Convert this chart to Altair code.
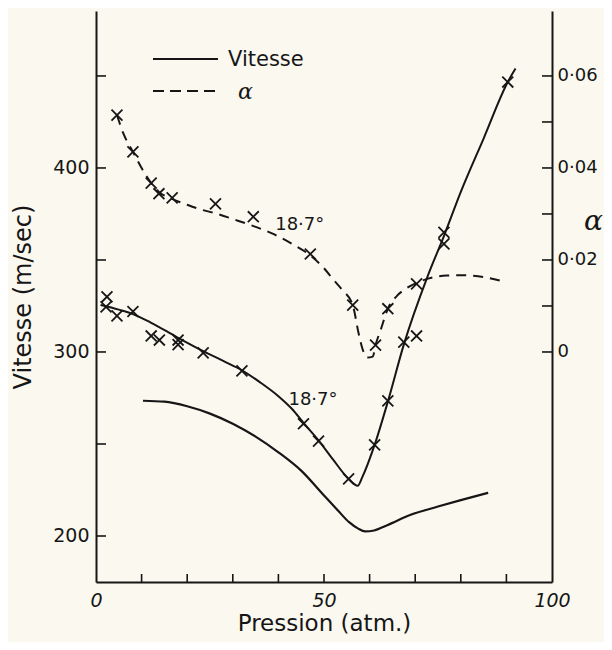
import altair as alt
import pandas as pd

# ---------------- data ----------------
# Vitesse (m/sec) smooth curve through the measured points (18.7 deg)
vit_curve_p = [1.0, 5.0, 8.1, 12.0, 17.8, 23.5, 28.0, 32.0, 36.0, 40.0, 43.0, 45.5, 48.8, 52.0,
               55.4, 57.4, 58.4, 61.1, 64.0, 67.5, 72.7, 76.3, 80.0, 85.0, 90.3, 92.0]
vit_curve_v = [325.5, 323.0, 320.6, 316.0, 308.0, 300.5, 295.0, 290.0, 283.5, 276.0, 269.0, 261.5, 252.0, 241.5,
               231.0, 227.3, 232.0, 249.5, 273.0, 304.0, 341.0, 363.0, 387.0, 416.0, 446.7, 454.0]

# measured Vitesse points (x markers)
vit_pts_p = [2.4, 2.2, 4.6, 8.1, 12.1, 13.9, 18.0, 18.0, 23.5, 32.0, 45.5, 48.8, 55.4,
             61.1, 64.0, 67.5, 70.3, 76.3, 76.3, 90.3]
vit_pts_v = [330.0, 324.5, 319.6, 322.0, 308.7, 306.5, 306.5, 304.0, 299.5, 289.7, 261.0, 251.6, 231.0,
             249.5, 273.4, 305.4, 308.7, 358.7, 365.0, 446.7]

# lower solid curve (no markers)
low_p = [10.3, 15.0, 20.0, 25.0, 30.0, 35.0, 40.0, 45.0, 50.0, 53.0, 55.5, 57.5, 59.0, 61.0, 64.0, 69.0, 75.0, 80.0, 86.0]
low_v = [273.5, 273.0, 270.5, 266.5, 261.0, 254.0, 245.5, 235.5, 222.0, 214.0, 207.5, 204.0, 202.5, 203.0, 206.0,
         211.5, 216.0, 219.5, 223.5]

# alpha dashed curve
alpha_curve_p = [4.6, 6.0, 8.1, 10.0, 12.1, 13.8, 16.7, 20.0, 22.9, 26.0, 30.0, 35.0, 39.0, 43.0, 47.0, 50.0,
                 52.0, 54.0, 56.3, 57.6, 58.4, 59.5, 60.7, 61.3, 62.5, 64.0, 66.0, 68.0, 70.3, 73.0, 77.0,
                 80.0, 85.0, 89.5]
alpha_curve_a = [0.0515, 0.0475, 0.0435, 0.0400, 0.0367, 0.0348, 0.0333, 0.0320, 0.0310, 0.0302, 0.0289, 0.0272,
                 0.0256, 0.0235, 0.0210, 0.0182, 0.0158, 0.0135, 0.0102, 0.0040, 0.0008, -0.0012, -0.0010,
                 0.0015, 0.0050, 0.0094, 0.0122, 0.0138, 0.0150, 0.0160, 0.0166, 0.0167, 0.0163, 0.0153]

# measured alpha points (x markers)
alpha_pts_p = [4.6, 8.1, 12.1, 13.8, 16.7, 26.2, 34.5, 47.0, 56.3, 61.3, 64.0, 70.3]
alpha_pts_a = [0.0515, 0.0435, 0.0367, 0.0344, 0.0335, 0.0322, 0.0294, 0.0213, 0.0102, 0.0015, 0.0094, 0.0148]

# curve annotations
note_text = ["18·7°", "18·7°"]
note_p = [39.3, 42.2]
note_v = [366.3, 271.2]

# axis ticks
x_labels = [0, 50, 100]
x_ticks = [10, 20, 30, 40, 50, 60, 70, 80, 90]
v_labels = [200, 300, 400]
v_ticks = [200, 250, 300, 350, 400, 450]
a_labels = [0, 0.02, 0.04, 0.06]
a_ticks = [0, 0.01, 0.02, 0.03, 0.04, 0.05, 0.06]

legend_labels = ["Vitesse", "α"]

# ---------------- chart ----------------
W, H = 456, 571
INK = "#161616"
FONT = "DejaVu Sans"

x_scale = alt.Scale(domain=[0, 100], nice=False, zero=False)
v_scale = alt.Scale(domain=[175, 485.3], nice=False, zero=False)
a_scale = alt.Scale(domain=[-0.05, 0.07412], nice=False, zero=False)

x_axis = alt.Axis(values=x_labels, title="Pression (atm.)", ticks=False, tickSize=0, grid=False,
                  labelPadding=9, labelFontSize=19, labelFontStyle="italic", labelFlush=False,
                  titleFontSize=23, titlePadding=2, titleFontWeight="normal")
v_axis = alt.Axis(values=v_labels, title="Vitesse (m/sec)", ticks=False, tickSize=0, grid=False,
                  labelPadding=7, labelFontSize=19, titleFontSize=24, titlePadding=17,
                  titleFontWeight="normal")
a_axis = alt.Axis(values=a_labels, orient="right", title="α", ticks=False, tickSize=0, grid=False,
                  labelPadding=5, labelFontSize=18,
                  labelExpr="datum.value == 0 ? '0' : replace(format(datum.value, '.2f'), '.', '·')",
                  titleAngle=0, titleX=41, titleY=210, titleFontSize=28, titleAlign="center",
                  titleBaseline="middle", titleFontWeight="normal", titleFont="DejaVu Serif",
                  titleFontStyle="italic")

X = alt.X("p:Q", scale=x_scale, axis=x_axis)
YV = alt.Y("v:Q", scale=v_scale, axis=v_axis)
YA = alt.Y("a:Q", scale=a_scale, axis=a_axis)

XSHAPE = "M-1,-1L1,1M1,-1L-1,1"

vit_line = alt.Chart(pd.DataFrame({"p": vit_curve_p, "v": vit_curve_v})).mark_line(
    color=INK, strokeWidth=2, interpolate="monotone").encode(x=X, y=YV)
vit_pts = alt.Chart(pd.DataFrame({"p": vit_pts_p, "v": vit_pts_v})).mark_point(
    shape=XSHAPE, size=120, color=INK, strokeWidth=1.8, filled=False, opacity=1).encode(x=X, y=YV)
low_line = alt.Chart(pd.DataFrame({"p": low_p, "v": low_v})).mark_line(
    color=INK, strokeWidth=2.2, interpolate="monotone").encode(x=X, y=YV)
notes = alt.Chart(pd.DataFrame({"p": note_p, "v": note_v, "t": note_text})).mark_text(
    align="left", baseline="alphabetic", font=FONT, fontSize=18, color=INK).encode(x=X, y=YV, text="t:N")
v_tick_marks = alt.Chart(pd.DataFrame({"v": v_ticks})).mark_rule(color=INK, strokeWidth=1.6).encode(
    y=YV, x=alt.value(0), x2=alt.value(10))
x_tick_marks = alt.Chart(pd.DataFrame({"p": x_ticks})).mark_rule(color=INK, strokeWidth=1.6).encode(
    x=X, y=alt.value(H - 8), y2=alt.value(H))

leg_df = pd.DataFrame({"t": legend_labels[:1]})
leg_solid = alt.Chart(leg_df).mark_rule(color=INK, strokeWidth=2).encode(
    x=alt.value(57), x2=alt.value(122), y=alt.value(48))
leg_text1 = alt.Chart(leg_df).mark_text(align="left", baseline="alphabetic", font=FONT, fontSize=21,
                                        color=INK).encode(x=alt.value(132), y=alt.value(55), text="t:N")

left = alt.layer(low_line, vit_line, vit_pts, notes, v_tick_marks, x_tick_marks, leg_solid, leg_text1)

alpha_line = alt.Chart(pd.DataFrame({"p": alpha_curve_p, "a": alpha_curve_a})).mark_line(
    color=INK, strokeWidth=2, strokeDash=[10, 7], interpolate="monotone").encode(x=X, y=YA)
alpha_pts = alt.Chart(pd.DataFrame({"p": alpha_pts_p, "a": alpha_pts_a})).mark_point(
    shape=XSHAPE, size=120, color=INK, strokeWidth=1.8, filled=False, opacity=1).encode(x=X, y=YA)
a_tick_marks = alt.Chart(pd.DataFrame({"a": a_ticks})).mark_rule(color=INK, strokeWidth=1.6).encode(
    y=YA, x=alt.value(W - 10), x2=alt.value(W))
leg_df2 = pd.DataFrame({"t": legend_labels[1:]})
leg_dash = alt.Chart(leg_df2).mark_rule(color=INK, strokeWidth=2, strokeDash=[11, 6]).encode(
    x=alt.value(57), x2=alt.value(122), y=alt.value(80))
leg_text2 = alt.Chart(leg_df2).mark_text(align="left", baseline="middle", font="DejaVu Serif",
                                         fontStyle="italic", fontSize=22, color=INK).encode(
    x=alt.value(142), y=alt.value(81), text="t:N")

right = alt.layer(alpha_line, alpha_pts, a_tick_marks, leg_dash, leg_text2)

chart = alt.layer(left, right).resolve_scale(y="independent").properties(
    width=W, height=H,
    autosize=alt.AutoSizeParams(type="none"),
    padding={"left": 88, "top": 3, "right": 52, "bottom": 60},
    background="#faf8ef",
).configure_view(stroke=None).configure_axis(
    labelFont=FONT, titleFont=FONT, labelColor=INK, titleColor=INK,
    domainColor=INK, domainWidth=2, labelOverlap=False,
)

chart.save("out.html", embed_options={"renderer": "svg", "actions": False})
